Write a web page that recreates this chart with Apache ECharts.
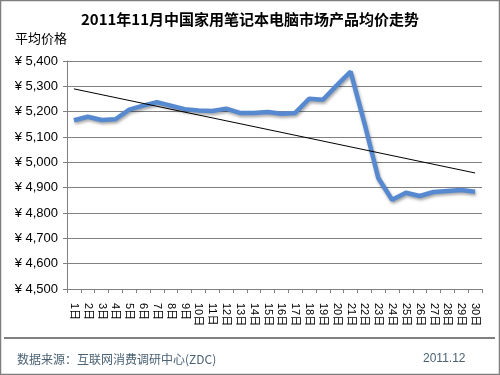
<!DOCTYPE html>
<html><head><meta charset="utf-8">
<script src="https://cdn.jsdelivr.net/npm/echarts@6/dist/echarts.min.js"></script>
<style>html,body{margin:0;padding:0;background:#fff}#c{width:500px;height:375px}</style>
</head><body><div id="c"></div>
<script>
var categories = [];
for (var d = 1; d <= 30; d++) categories.push(d + '日');
var prices = [5166, 5180, 5167, 5170, 5208, 5224, 5237, 5224, 5210, 5205,
              5203, 5212, 5195, 5195, 5199, 5192, 5195, 5251, 5247, 5304,
              5358, 5155, 4938, 4852, 4880, 4867, 4883, 4887, 4891, 4884];
var trendStart = ['1日', 5290];
var trendEnd = ['30日', 4958];
var yTicks = [4500, 4600, 4700, 4800, 4900, 5000, 5100, 5200, 5300, 5400];

var chart = echarts.init(document.getElementById('c'));
var font = '"Liberation Sans", Arial, "Noto Sans CJK SC", sans-serif';
chart.setOption({
  animation: false,
  textStyle: {fontFamily: font},
  title: {
    text: '2011年11月中国家用笔记本电脑市场产品均价走势',
    left: 'center', top: 7,
    textStyle: {fontSize: 15, fontWeight: 'bold', color: '#000', fontFamily: '"Noto Sans CJK SC", sans-serif'}
  },
  graphic: [
    {type: 'rect', shape: {x: 0.5, y: 0.5, width: 499, height: 374}, style: {fill: 'none', stroke: '#7f7f7f', lineWidth: 1.5}},
    {type: 'line', shape: {x1: 4, y1: 338, x2: 495, y2: 338}, style: {stroke: '#000', lineWidth: 1}},
    {type: 'text', left: 15, top: 32, style: {text: '平均价格', fontSize: 13, fill: '#000', fontFamily: '"Noto Sans CJK SC", sans-serif'}},
    {type: 'text', left: 17, top: 353, style: {text: '数据来源：互联网消费调研中心(ZDC)', fontSize: 12, fill: '#4a6274', fontFamily: '"Noto Sans CJK SC", sans-serif'}},
    {type: 'text', left: 423, top: 353, style: {text: '2011.12', fontSize: 12, fill: '#4a6274', fontFamily: font}}
  ],
  grid: {left: 67, right: 18, top: 61, bottom: 86, containLabel: false},
  xAxis: {
    type: 'category', data: categories, boundaryGap: true,
    axisLine: {lineStyle: {color: '#808080'}},
    axisTick: {show: true, alignWithLabel: false, length: 4, lineStyle: {color: '#808080'}},
    axisLabel: {rotate: -90, interval: 0, fontSize: 11, color: '#000', margin: 14, fontFamily: font}
  },
  yAxis: {
    type: 'value', min: 4500, max: 5400, interval: 100,
    axisLine: {show: true, lineStyle: {color: '#808080'}},
    axisTick: {show: true, length: 4, lineStyle: {color: '#808080'}},
    splitLine: {lineStyle: {color: '#808080', width: 1}},
    axisLabel: {fontSize: 13, color: '#000', margin: 9,
      formatter: function (v) { return '¥ ' + v.toLocaleString('en-US'); }}
  },
  series: [
    {type: 'line', data: prices, showSymbol: false, symbol: 'none',
     lineStyle: {color: '#5689cf', width: 4.5, shadowColor: 'rgba(0,0,0,0.35)', shadowBlur: 3, shadowOffsetY: 2, shadowOffsetX: 1}},
    {type: 'line', data: [trendStart, trendEnd], showSymbol: false, symbol: 'none',
     lineStyle: {color: '#000', width: 1}}
  ]
});
</script></body></html>
